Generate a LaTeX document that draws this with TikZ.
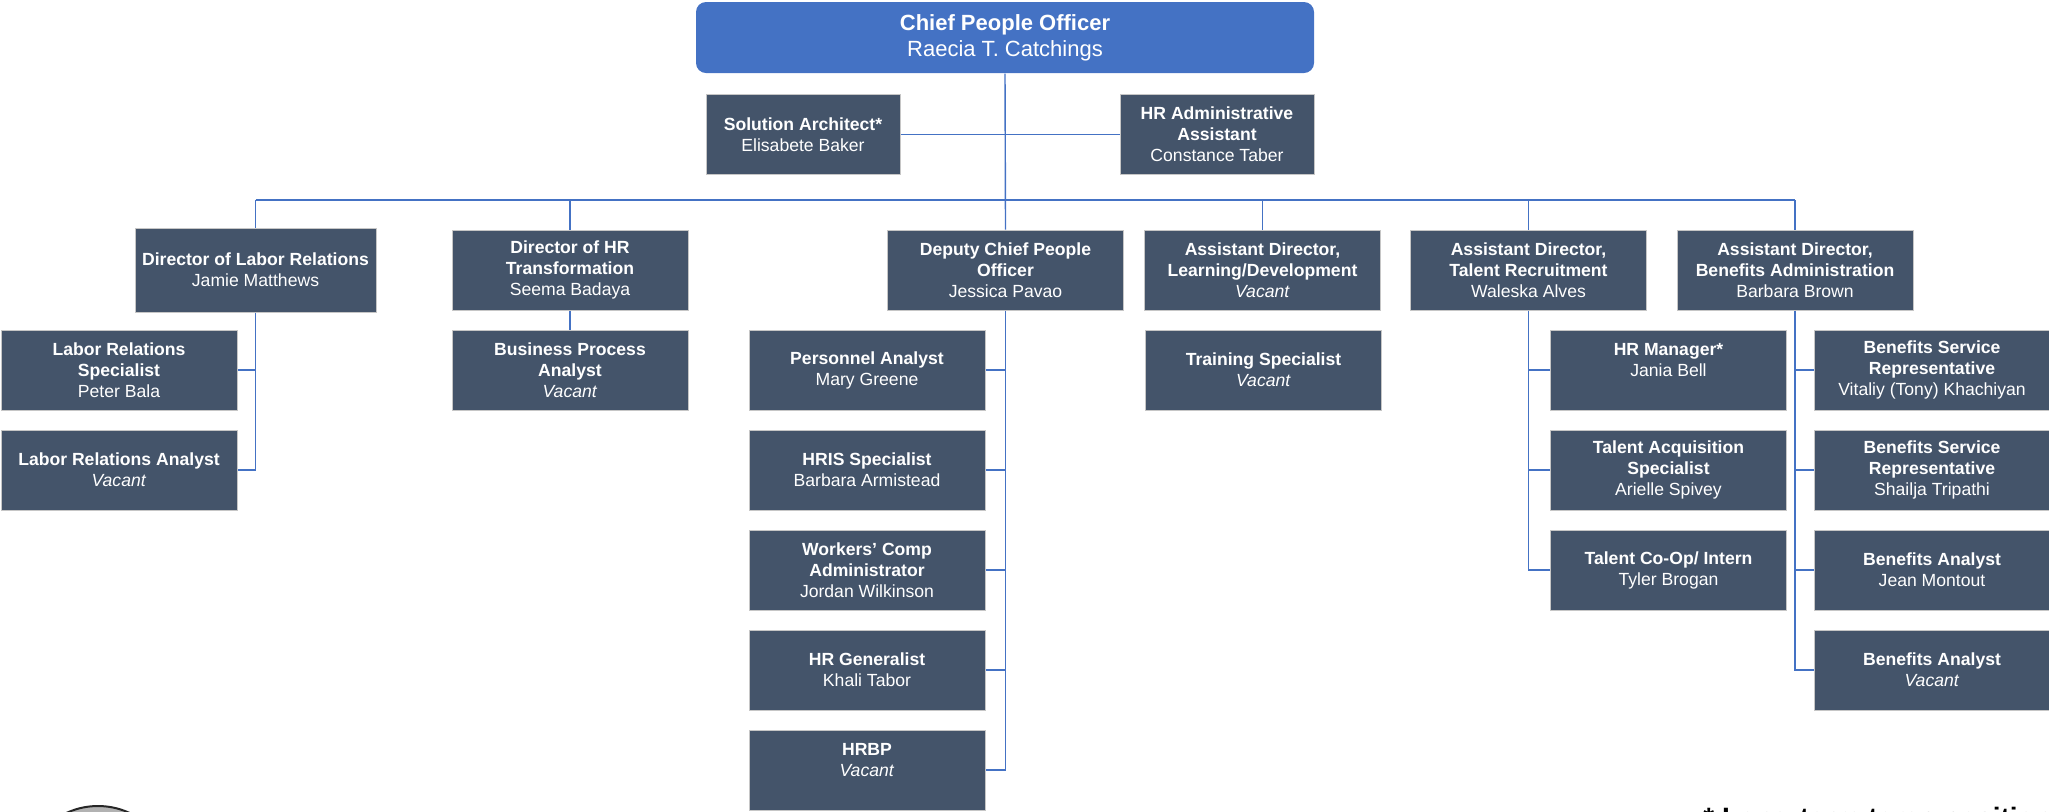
\documentclass[tikz,border=0pt]{standalone}
\usepackage{fontspec}
\setmainfont{Liberation Sans}
\definecolor{slate}{HTML}{44546A}
\definecolor{hrblue}{HTML}{4472C4}
\tikzset{
  post/.style={draw=gray!45, line width=0.5pt, fill=slate, text=white, align=center,
    inner sep=2pt, minimum width=118pt, minimum height=40pt, font=\fontsize{8.8}{10.5}\selectfont},
  head/.style={post, draw=none, fill=hrblue, rounded corners=5pt, minimum width=309pt,
    minimum height=35.5pt, font=\fontsize{11}{13}\selectfont},
  link/.style={draw=hrblue, line width=0.7pt},
}
\begin{document}
\begin{tikzpicture}[x=0.5pt, y=-0.5pt]
\useasboundingbox (0,0) rectangle (2049,811);

% Top of the chart
\node[head] (chief) at (1005,37.5) {\textbf{Chief People Officer}\\Raecia T. Catchings};
\node[post, minimum width=97pt] (arch) at (803,134.5) {\textbf{Solution Architect*}\\Elisabete Baker};
\node[post, minimum width=97pt] (admin) at (1217,134.5) {\textbf{HR Administrative}\\\textbf{Assistant}\\Constance Taber};

% Directors
\node[post, minimum width=120.5pt, minimum height=42pt] (dlr) at (255.5,270) {\textbf{Director of Labor Relations}\\Jamie Matthews};
\node[post] (dhrt) at (570,270) {\textbf{Director of HR}\\\textbf{Transformation}\\Seema Badaya};
\node[post] (dcpo) at (1005.5,270) {\textbf{Deputy Chief People}\\\textbf{Officer}\\Jessica Pavao};
\node[post] (ald) at (1262.5,270) {\textbf{Assistant Director,}\\\textbf{Learning/Development}\\\textit{Vacant}};
\node[post] (atr) at (1528.5,270) {\textbf{Assistant Director,}\\\textbf{Talent Recruitment}\\Waleska Alves};
\node[post] (aba) at (1795,270) {\textbf{Assistant Director,}\\\textbf{Benefits Administration}\\Barbara Brown};

% Labor relations and HR transformation staff
\node[post] (lrs) at (119,370) {\textbf{Labor Relations}\\\textbf{Specialist}\\Peter Bala};
\node[post] (lra) at (119,470) {\textbf{Labor Relations Analyst}\\\textit{Vacant}};
\node[post] (bpa) at (570,370) {\textbf{Business Process}\\\textbf{Analyst}\\\textit{Vacant}};

% Deputy staff
\node[post] (pa) at (867,370) {\textbf{Personnel Analyst}\\Mary Greene};
\node[post] (hris) at (867,470) {\textbf{HRIS Specialist}\\Barbara Armistead};
\node[post] (wc) at (867,570) {\textbf{Workers’ Comp}\\\textbf{Administrator}\\Jordan Wilkinson};
\node[post] (hrg) at (867,670) {\textbf{HR Generalist}\\Khali Tabor};
\node[post] (hrbp) at (867,770) {\textbf{HRBP}\\\textit{Vacant}\\\mbox{}};

% Learning staff
\node[post] (ts) at (1263.5,370) {\textbf{Training Specialist}\\\textit{Vacant}};

% Recruitment staff
\node[post] (hrm) at (1668.5,370) {\textbf{HR Manager*}\\Jania Bell\\\mbox{}};
\node[post] (tas) at (1668.5,470) {\textbf{Talent Acquisition}\\\textbf{Specialist}\\Arielle Spivey};
\node[post] (tco) at (1668.5,570) {\textbf{Talent Co-Op/ Intern}\\Tyler Brogan};

% Benefits staff
\node[post] (bsr1) at (1932,370) {\textbf{Benefits Service}\\\textbf{Representative}\\Vitaliy (Tony) Khachiyan};
\node[post] (bsr2) at (1932,470) {\textbf{Benefits Service}\\\textbf{Representative}\\Shailja Tripathi};
\node[post] (ba1) at (1932,570) {\textbf{Benefits Analyst}\\Jean Montout};
\node[post] (ba2) at (1932,670) {\textbf{Benefits Analyst}\\\textit{Vacant}};

% Trunk and bus
\coordinate (bus) at (1005,200);
\draw[link] (chief.south) -- (dcpo.north);
\draw[link] (arch.east) -- (admin.west);
\draw[link] (bus -| dlr.north) -- (bus -| aba.north);
\draw[link] (bus -| dlr.north) -- (dlr.north);
\draw[link] (bus -| dhrt.north) -- (dhrt.north);
\draw[link] (bus -| ald.north) -- (ald.north);
\draw[link] (bus -| atr.north) -- (atr.north);
\draw[link] (bus -| aba.north) -- (aba.north);

% Reporting lines
\draw[link] (dlr.south) |- (lra.east);
\draw[link] (lrs.east) -- (lrs.east -| dlr.south);
\draw[link] (dhrt.south) -- (bpa.north);
\draw[link] (dcpo.south) |- (hrbp.east);
\draw[link] (pa.east) -- (pa.east -| dcpo.south);
\draw[link] (hris.east) -- (hris.east -| dcpo.south);
\draw[link] (wc.east) -- (wc.east -| dcpo.south);
\draw[link] (hrg.east) -- (hrg.east -| dcpo.south);
\draw[link] (atr.south) |- (tco.west);
\draw[link] (hrm.west) -- (hrm.west -| atr.south);
\draw[link] (tas.west) -- (tas.west -| atr.south);
\draw[link] (aba.south) |- (ba2.west);
\draw[link] (bsr1.west) -- (bsr1.west -| aba.south);
\draw[link] (bsr2.west) -- (bsr2.west -| aba.south);
\draw[link] (ba1.west) -- (ba1.west -| aba.south);

% Seal and footnote, cut by the page edge
\draw[fill=gray!60, draw=gray!30!black, line width=1pt] (98,881) circle[radius=75];
\node[anchor=base west, inner sep=0pt, font=\fontsize{14}{16}\selectfont\bfseries] (note) at (1703,827) {* Long-term temp position};
\end{tikzpicture}
\end{document}
